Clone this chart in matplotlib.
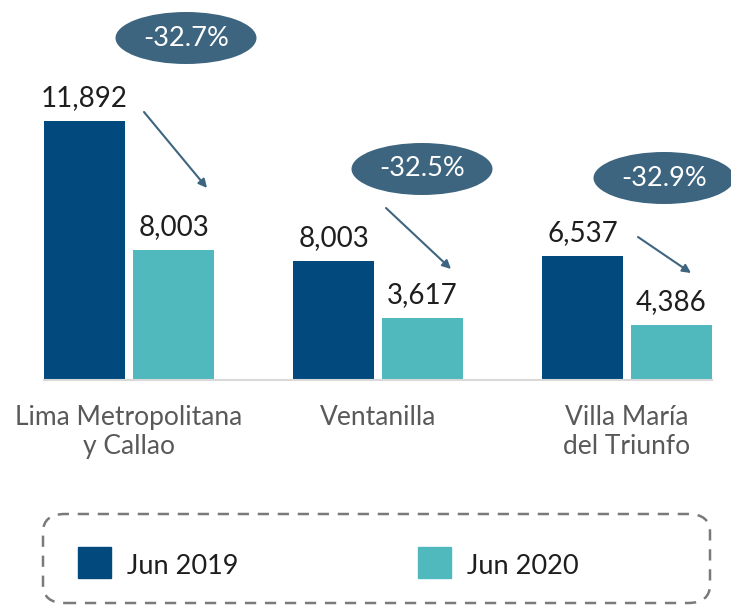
import numpy as np
import matplotlib.pyplot as plt
from matplotlib.patches import Ellipse, Rectangle, FancyBboxPatch

plt.rcParams['font.family'] = ['Lato', 'DejaVu Sans']

categories = ["Lima Metropolitana\ny Callao", "Ventanilla", "Villa María\ndel Triunfo"]
# bar heights as drawn in the picture
jun2019 = [11892, 5460, 5690]
jun2020 = [5970, 2850, 2530]
# value labels as printed on the picture
labels2019 = ["11,892", "8,003", "6,537"]
labels2020 = ["8,003", "3,617", "4,386"]
changes = ["-32.7%", "-32.5%", "-32.9%"]
series = ["Jun 2019", "Jun 2020"]

c2019 = "#024a7d"
c2020 = "#4fb9bd"
c_badge = "#3e6580"

W, H = 731, 607
fig = plt.figure(figsize=(W / 100, H / 100), dpi=100)

# axes: baseline at pixel row 380, group centres at 129, 378, 627
step = 249.0
x0 = 129.0
ax = fig.add_axes([0, (H - 380) / H, 1, 380 / H])
ax.set_xlim(-x0 / step, (W - x0) / step)
unit = 11892 / 259.0  # data units per pixel
ax.set_ylim(0, 380 * unit)

x = np.arange(len(categories))
bw = 81 / step
off = 44.5 / step
b1 = ax.bar(x - off, jun2019, bw, color=c2019)
b2 = ax.bar(x + off, jun2020, bw, color=c2020)

for rects, labs in [(b1, labels2019), (b2, labels2020)]:
    for r, t in zip(rects, labs):
        ax.annotate(t, (r.get_x() + r.get_width() / 2, r.get_height()),
                    xytext=(0, 11), textcoords="offset points",
                    ha="center", va="baseline", fontsize=20, color="#1e1e1e")

# badges with percentage change
badge_pos = [(186, 38), (422, 169), (664, 178)]
for i, (ch, (px, py)) in enumerate(zip(changes, badge_pos)):
    cx = (px - x0) / step
    cy = (380 - py) * unit
    e = Ellipse((cx, cy), 141 / step, 52 * unit, color=c_badge, clip_on=False, lw=0)
    ax.add_patch(e)
    ax.text(cx, cy, ch, ha="center", va="center", color="white", fontsize=19.5)

arrows = [((144, 112), (207, 188)), ((386, 208), (451, 269)), ((638, 237), (691, 273))]
for (sx, sy), (ex, ey) in arrows:
    ax.annotate("", xy=((ex - x0) / step, (380 - ey) * unit),
                xytext=((sx - x0) / step, (380 - sy) * unit),
                arrowprops=dict(arrowstyle="-|>,head_length=0.5,head_width=0.25",
                                color=c_badge, lw=1.5, shrinkA=0, shrinkB=0))

for s in ["top", "right", "left"]:
    ax.spines[s].set_visible(False)
ax.spines["bottom"].set_color("#d9d9d9")
ax.spines["bottom"].set_linewidth(1.5)
ax.spines["bottom"].set_bounds(-off - bw / 2, 2 + off + bw / 2)
ax.set_yticks([])
ax.set_xticks(x)
ax.set_xticklabels(categories, fontsize=19, color="#595959", linespacing=1.2)
ax.tick_params(axis="x", length=0, pad=18)

# legend drawn in figure pixels
def fx(p):
    return p / W

def fy(p):
    return (H - p) / H

box = FancyBboxPatch((fx(43), fy(603)), fx(710) - fx(43), fy(514) - fy(603),
                     boxstyle="round,pad=0,rounding_size=0.03",
                     transform=fig.transFigure, fill=False,
                     edgecolor="#7a7a7a", lw=1.8, linestyle=(0, (4.5, 3.5)))
fig.patches.append(box)
for sq_x, col, name in [(78, c2019, series[0]), (418, c2020, series[1])]:
    fig.patches.append(Rectangle((fx(sq_x), fy(578)), fx(33), 31 / H, color=col,
                                 transform=fig.transFigure))
    fig.text(fx(sq_x + 49), fy(574), name, fontsize=19.5, color="#1e1e1e",
             va="baseline", ha="left")

fig.savefig("out.png", dpi=100)
